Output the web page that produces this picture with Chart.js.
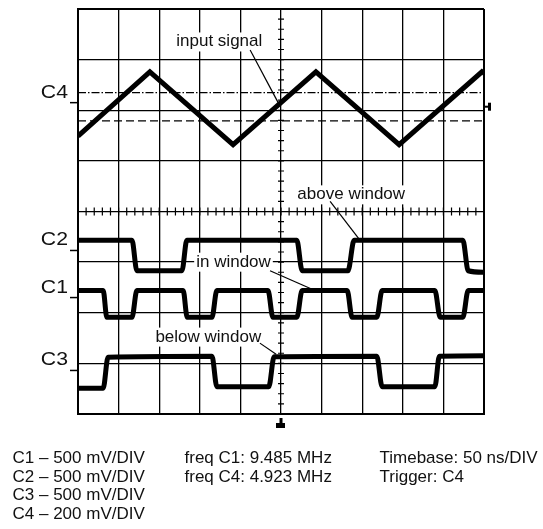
<!DOCTYPE html>
<html>
<head>
<meta charset="utf-8">
<title>Window comparator scope capture</title>
<script src="https://cdn.jsdelivr.net/npm/chart.js@4.4.1/dist/chart.umd.min.js"></script>
<style>
  body { margin: 0; background: #fff; }
  #wrap { position: relative; width: 543px; height: 529px; }
  #scope { position: absolute; left: 0; top: 0; }
  .notes {
    position: absolute;
    top: 449px;
    font-family: "Liberation Sans", Arial, sans-serif;
    font-size: 17px;
    line-height: 18.5px;
    color: #111;
    white-space: nowrap;
  }
</style>
</head>
<body>
<div id="wrap">
  <canvas id="scope" width="543" height="529"></canvas>
  <div class="notes" id="col-scale" style="left:12.5px"></div>
  <div class="notes" id="col-freq" style="left:184.5px"></div>
  <div class="notes" id="col-time" style="left:379.5px"></div>
</div>
<script>
// screen is 10 x 8 divisions, values below are in divisions
const divX = 10;
const divY = 8;

// C4 - input signal (triangle)
const timeC4 = [0, 1.77, 3.82, 5.86, 7.91, 9.95, 10];
const levelC4 = [5.49, 6.76, 5.32, 6.76, 5.32, 6.76, 6.73];

// C2 - above window
const timeC2 = [0, 1.33, 1.45, 2.56, 2.68, 5.39, 5.52, 6.65, 6.80, 9.48, 9.61, 10];
const levelC2 = [3.43, 3.43, 2.83, 2.83, 3.43, 3.43, 2.83, 2.83, 3.43, 3.43, 2.83, 2.80];

// C1 - in window
const timeC1 = [0, 0.62, 0.71, 1.33, 1.45, 2.59, 2.69, 3.30, 3.42, 4.68, 4.80, 5.39, 5.52,
  6.63, 6.75, 7.36, 7.49, 8.79, 8.92, 9.48, 9.61, 10];
const levelC1 = [2.44, 2.44, 1.91, 1.91, 2.44, 2.44, 1.91, 1.91, 2.44, 2.44, 1.91, 1.91, 2.44,
  2.44, 1.91, 1.91, 2.44, 2.44, 1.91, 1.91, 2.44, 2.44];

// C3 - below window
const timeC3 = [0, 0.62, 0.74, 3.30, 3.42, 4.70, 4.83, 7.36, 7.49, 8.79, 8.90, 10];
const levelC3 = [0.51, 0.51, 1.12, 1.14, 0.54, 0.54, 1.13, 1.14, 0.54, 0.54, 1.14, 1.15];

// window thresholds on C4
const upperThreshold = 6.35;
const lowerThreshold = 5.79;

// channel ground markers on the left
const channelNames = ["C4", "C2", "C1", "C3"];
const channelZero = [6.15, 3.23, 2.30, 0.86];
const triggerLevel = 6.07;
const triggerTime = 5;

// annotations: centre x, baseline y, leader line
const noteLabels = ["input signal", "above window", "in window", "below window"];
const noteX = [3.48, 6.73, 3.83, 3.21];
const noteY = [7.26, 4.24, 2.91, 1.43];
const leaderStart = [[4.24, 7.19], [6.21, 4.20], [4.73, 2.83], [4.48, 1.40]];
const leaderEnd = [[4.93, 6.15], [6.92, 3.46], [5.78, 2.46], [4.88, 1.18]];

// text under the screen
const scaleNotes = ["C1 – 500 mV/DIV", "C2 – 500 mV/DIV", "C3 – 500 mV/DIV", "C4 – 200 mV/DIV"];
const freqNotes = ["freq C1: 9.485 MHz", "freq C4: 4.923 MHz"];
const timeNotes = ["Timebase: 50 ns/DIV", "Trigger: C4"];

const FONT = '"Liberation Sans", Arial, sans-serif';

function zip(xs, ys) {
  return xs.map((x, i) => ({ x: x, y: ys[i] }));
}

function trace(xs, ys, smooth) {
  return {
    data: zip(xs, ys),
    borderColor: "#000",
    borderWidth: 5,
    pointRadius: 0,
    fill: false,
    cubicInterpolationMode: smooth ? "monotone" : "default",
    tension: 0,
  };
}

function refLine(level, dash) {
  return {
    data: [{ x: 0, y: level }, { x: divX, y: level }],
    borderColor: "#000",
    borderWidth: 1.2,
    borderDash: dash,
    pointRadius: 0,
    fill: false,
  };
}

const leaders = leaderStart.map((p, i) => ({
  data: [{ x: p[0], y: p[1] }, { x: leaderEnd[i][0], y: leaderEnd[i][1] }],
  borderColor: "#000",
  borderWidth: 1.2,
  pointRadius: 0,
  fill: false,
}));

// Сетка, подписи и маркеры осциллографа
const scopeDecor = {
  id: "scopeDecor",
  beforeDatasetsDraw(chart) {
    const { ctx, scales } = chart;
    const x = scales.x;
    const y = scales.y;
    const cx = x.getPixelForValue(divX / 2);
    const cy = y.getPixelForValue(divY / 2);

    ctx.save();
    ctx.strokeStyle = "#000";
    ctx.lineWidth = 1.2;
    ctx.beginPath();
    for (let i = 0; i <= divX * 5; i++) {
      const px = x.getPixelForValue(i / 5);
      ctx.moveTo(px, cy - 4);
      ctx.lineTo(px, cy + 4);
    }
    for (let i = 0; i <= divY * 5; i++) {
      const py = y.getPixelForValue(i / 5);
      ctx.moveTo(cx - 3, py);
      ctx.lineTo(cx + 3, py);
    }
    ctx.stroke();

    // labels sit on a white patch over the grid
    ctx.font = "17px " + FONT;
    ctx.textAlign = "center";
    ctx.textBaseline = "alphabetic";
    noteLabels.forEach((label, i) => {
      const px = x.getPixelForValue(noteX[i]);
      const py = y.getPixelForValue(noteY[i]);
      const w = ctx.measureText(label).width;
      ctx.fillStyle = "#fff";
      ctx.fillRect(px - w / 2 - 2, py - 14, w + 4, 19);
      ctx.fillStyle = "#111";
      ctx.fillText(label, px, py);
    });
    ctx.restore();
  },
  afterDraw(chart) {
    const { ctx, scales, chartArea } = chart;
    const x = scales.x;
    const y = scales.y;

    ctx.save();
    ctx.fillStyle = "#111";
    ctx.strokeStyle = "#000";
    ctx.lineWidth = 1.5;
    ctx.font = "18px " + FONT;
    ctx.textAlign = "right";
    ctx.textBaseline = "alphabetic";
    channelNames.forEach((name, i) => {
      const py = y.getPixelForValue(channelZero[i]);
      ctx.beginPath();
      ctx.moveTo(chartArea.left - 8, py);
      ctx.lineTo(chartArea.left, py);
      ctx.stroke();
      ctx.save();
      ctx.translate(chartArea.left - 10, py - 5);
      ctx.scale(1.18, 1);
      ctx.fillText(name, 0, 0);
      ctx.restore();
    });

    // trigger level (right) and trigger position (bottom)
    ctx.fillStyle = "#000";
    const ty = y.getPixelForValue(triggerLevel);
    ctx.fillRect(chartArea.right + 1, ty - 1, 3, 2);
    ctx.fillRect(chartArea.right + 4, ty - 4, 3, 8);
    const tx = x.getPixelForValue(triggerTime);
    ctx.fillRect(tx - 1.5, chartArea.bottom + 4, 3, 7);
    ctx.fillRect(tx - 5, chartArea.bottom + 9, 9, 5);
    ctx.restore();
  },
};

function frameWidth(max) {
  return (c) => (c.tick && (c.tick.value === 0 || c.tick.value === max) ? 2 : 1.3);
}

new Chart(document.getElementById("scope").getContext("2d"), {
  type: "line",
  data: {
    datasets: [
      trace(timeC4, levelC4, false),
      trace(timeC2, levelC2, true),
      trace(timeC1, levelC1, true),
      trace(timeC3, levelC3, true),
      refLine(upperThreshold, [8, 2, 1.5, 2]),
      refLine(lowerThreshold, [8, 4]),
      ...leaders,
    ],
  },
  options: {
    responsive: false,
    animation: false,
    layout: { padding: { left: 78, top: 9, right: 59, bottom: 115 } },
    scales: {
      x: {
        type: "linear",
        min: 0,
        max: divX,
        ticks: { stepSize: 1, display: false },
        grid: { color: "#000", lineWidth: frameWidth(divX), drawTicks: false },
        border: { color: "#000", width: 2 },
      },
      y: {
        type: "linear",
        min: 0,
        max: divY,
        ticks: { stepSize: 1, display: false },
        grid: { color: "#000", lineWidth: frameWidth(divY), drawTicks: false },
        border: { color: "#000", width: 2 },
      },
    },
    plugins: {
      legend: { display: false },
      tooltip: { enabled: false },
    },
  },
  plugins: [scopeDecor],
});

document.getElementById("col-scale").innerHTML = scaleNotes.join("<br>");
document.getElementById("col-freq").innerHTML = freqNotes.join("<br>");
document.getElementById("col-time").innerHTML = timeNotes.join("<br>");
</script>
</body>
</html>
